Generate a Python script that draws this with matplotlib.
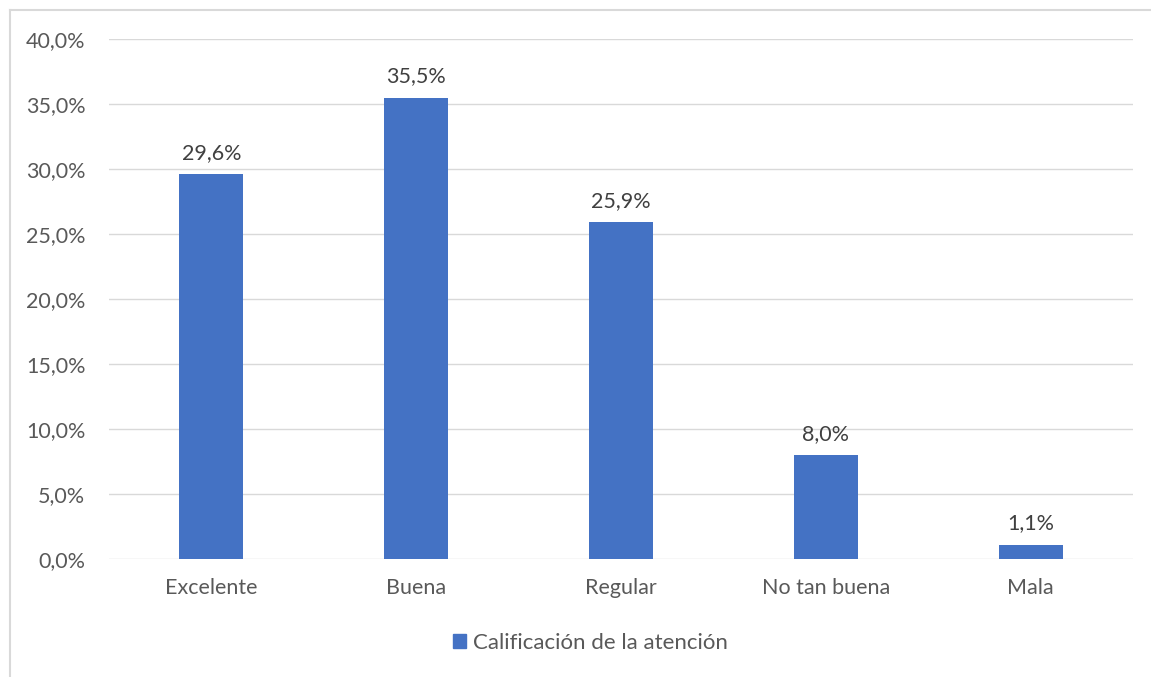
import matplotlib
matplotlib.use("Agg")
import matplotlib.pyplot as plt
from matplotlib.patches import Rectangle
from matplotlib.lines import Line2D

categories = ["Excelente", "Buena", "Regular", "No tan buena", "Mala"]
values = [29.6, 35.5, 25.9, 8.0, 1.1]
yticks = [0, 5, 10, 15, 20, 25, 30, 35, 40]
series_name = "Calificación de la atención"

plt.rcParams['font.family'] = ['Lato', 'DejaVu Sans']
W, H = 1151, 677
fig = plt.figure(figsize=(W/100, H/100), dpi=100)
ax = fig.add_axes([109/W, 1-559/H, (1133-109)/W, (559-39)/H])

bar_color = "#4472C4"
FS = 15.5
x = list(range(len(categories)))
ax.bar(x, values, width=0.3125, color=bar_color, zorder=3)
for xi, v in zip(x, values):
    ax.annotate(f"{v:.1f}%".replace(".", ","), (xi, v), xytext=(0, 8),
                textcoords="offset points", ha="center", va="bottom",
                fontsize=FS, color="#404040")

ax.set_xlim(-0.5, len(categories) - 0.5)
ax.set_ylim(0, 40)
ax.set_yticks(yticks)
ax.set_yticklabels([f"{t:.1f}%".replace(".", ",") for t in yticks])
ax.set_xticks(x)
ax.set_xticklabels(categories)
ax.tick_params(axis="both", length=0, labelsize=FS, labelcolor="#595959")
ax.tick_params(axis="y", pad=17)
ax.tick_params(axis="x", pad=14)
ax.grid(axis="y", color="#D9D9D9", linewidth=1, zorder=0)
for s in ax.spines.values():
    s.set_visible(False)

handle = Rectangle((0, 0), 1, 1, color=bar_color)
fig.legend([handle], [series_name], loc="center", bbox_to_anchor=(590/W, 1-643/H),
           frameon=False, fontsize=16, handlelength=0.6, handleheight=0.6,
           handletextpad=0.3, labelcolor="#595959")

# outer chart border (left and top visible)
fig.add_artist(Line2D([10/W, 10/W], [0, 1-10/H], transform=fig.transFigure, color="#D9D9D9", lw=1.5))
fig.add_artist(Line2D([10/W, 1], [1-10/H, 1-10/H], transform=fig.transFigure, color="#D9D9D9", lw=1.5))

fig.savefig("out.png", dpi=100)
